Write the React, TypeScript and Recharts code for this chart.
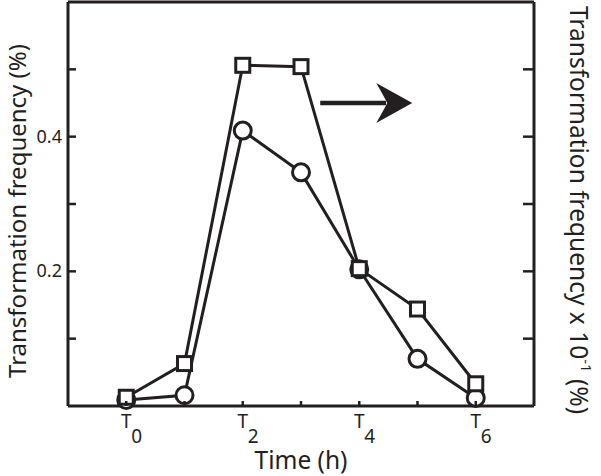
import {
  Label,
  Line,
  LineChart,
  ReferenceDot,
  ReferenceLine,
  XAxis,
  YAxis,
} from "recharts";

// time points (h) and the two measured series
const hours = [0, 1, 2, 3, 4, 5, 6];
const circleValues = [0.009, 0.016, 0.409, 0.347, 0.203, 0.07, 0.012];
const squareValues = [0.013, 0.063, 0.506, 0.504, 0.204, 0.144, 0.033];

const xTicks = [0, 1, 2, 3, 4, 5, 6];
const xLabelled = [0, 2, 4, 6];
const yTicks = [0.1, 0.2, 0.3, 0.4, 0.5];
const yLabelled = [0.2, 0.4];

// arrow pointing at the right-hand axis
const arrowFrom = { x: 3.33, y: 0.45 };
const arrowTo = { x: 4.91, y: 0.45 };

const INK = "#231f20";
const FONT = "'Noto Sans', sans-serif";

const data = hours.map((h, i) => ({
  h,
  circle: circleValues[i],
  square: squareValues[i],
}));

function LeftTick(props: any) {
  const { x, y, payload } = props;
  const v = payload.value;
  return (
    <g>
      <line x1={x + 6} x2={x + 14} y1={y} y2={y} stroke={INK} strokeWidth={2.5} />
      {yLabelled.includes(v) ? (
        <text x={x} y={y + 6} textAnchor="end" fontSize={18} fill={INK} fontFamily={FONT}>
          {v.toFixed(1)}
        </text>
      ) : null}
    </g>
  );
}

function RightTick(props: any) {
  const { x, y } = props;
  return <line x1={x} x2={x - 11} y1={y} y2={y} stroke={INK} strokeWidth={2.5} />;
}

function BottomTick(props: any) {
  const { x, y, payload } = props;
  const v = payload.value;
  return (
    <g>
      <line x1={x} x2={x} y1={y} y2={y - 5} stroke={INK} strokeWidth={2.5} />
      {xLabelled.includes(v) ? (
        <g fontFamily={FONT} fill={INK}>
          <text x={x} y={y + 22} textAnchor="middle" fontSize={19}>
            T
          </text>
          <text x={x + 5} y={y + 37} textAnchor="start" fontSize={19}>
            {v}
          </text>
        </g>
      ) : null}
    </g>
  );
}

function SquareDot(props: any) {
  const { cx, cy, index } = props;
  return (
    <rect
      key={`sq-${index}`}
      x={cx - 7}
      y={cy - 7}
      width={14}
      height={14}
      fill="#fff"
      stroke={INK}
      strokeWidth={3}
    />
  );
}

function CircleDot(props: any) {
  const { cx, cy, index } = props;
  return (
    <circle key={`ci-${index}`} cx={cx} cy={cy} r={8.5} fill="#fff" stroke={INK} strokeWidth={3} />
  );
}

function ArrowHead(props: any) {
  const { cx, cy } = props;
  return (
    <path
      d={`M${cx},${cy} L${cx - 36},${cy - 20} Q${cx - 28},${cy - 6} ${cx - 25},${cy} Q${cx - 28},${cy + 6} ${cx - 36},${cy + 20} Z`}
      fill={INK}
    />
  );
}

export default function App() {
  return (
    <div style={{ position: "absolute", left: 0, top: 0, width: 601, height: 476, background: "#fff" }}>
      <LineChart width={601} height={476} data={data} margin={{ top: 2, right: 0, bottom: 0, left: 0 }}>
        <XAxis
          xAxisId="x"
          dataKey="h"
          type="number"
          domain={[-1, 7]}
          ticks={xTicks}
          interval={0}
          height={70}
          tickSize={0}
          tickMargin={0}
          tickLine={false}
          tick={<BottomTick />}
          axisLine={{ stroke: INK, strokeWidth: 3 }}
        >
          <Label
            content={(p: any) => {
              const vb = p.viewBox;
              return (
                <text
                  x={vb.x + vb.width / 2}
                  y={vb.y + 63}
                  textAnchor="middle"
                  fontSize={24.5}
                  fill={INK}
                  fontFamily={FONT}
                >
                  Time (h)
                </text>
              );
            }}
          />
        </XAxis>
        <YAxis
          yAxisId="left"
          type="number"
          domain={[0, 0.6]}
          ticks={yTicks}
          interval={0}
          width={68}
          tickSize={0}
          tickMargin={6}
          tickLine={false}
          tick={<LeftTick />}
          axisLine={{ stroke: INK, strokeWidth: 3 }}
        >
          <Label
            content={(p: any) => {
              const vb = p.viewBox;
              const cx = vb.x + 26;
              const cy = vb.y + vb.height - 28;
              return (
                <text
                  transform={`translate(${cx},${cy}) rotate(-90)`}
                  textAnchor="start"
                  fontSize={24}
                  fill={INK}
                  fontFamily={FONT}
                >
                  Transformation frequency (%)
                </text>
              );
            }}
          />
        </YAxis>
        <YAxis
          yAxisId="right"
          orientation="right"
          type="number"
          domain={[0, 0.6]}
          ticks={yTicks}
          interval={0}
          width={67}
          tickSize={0}
          tickMargin={0}
          tickLine={false}
          tick={<RightTick />}
          axisLine={{ stroke: INK, strokeWidth: 3 }}
        >
          <Label
            content={(p: any) => {
              const vb = p.viewBox;
              const cx = vb.x + 35.5;
              const cy = 6;
              return (
                <text
                  transform={`translate(${cx},${cy}) rotate(90)`}
                  textAnchor="start"
                  fontSize={24.5}
                  fill={INK}
                  fontFamily={FONT}
                >
                  Transformation frequency x 10
                  <tspan fontSize={15} dy={-11}>
                    -1
                  </tspan>
                  <tspan dy={11}> (%)</tspan>
                </text>
              );
            }}
          />
        </YAxis>

        <ReferenceLine xAxisId="x" yAxisId="left" y={0.6} stroke={INK} strokeWidth={3} />

        <Line
          xAxisId="x"
          yAxisId="left"
          type="linear"
          dataKey="circle"
          stroke={INK}
          strokeWidth={3}
          dot={CircleDot}
          activeDot={false}
          isAnimationActive={false}
        />
        <Line
          xAxisId="x"
          yAxisId="right"
          type="linear"
          dataKey="square"
          stroke={INK}
          strokeWidth={3}
          dot={SquareDot}
          activeDot={false}
          isAnimationActive={false}
        />

        <ReferenceLine
          xAxisId="x"
          yAxisId="left"
          segment={[arrowFrom, { x: arrowTo.x - 0.45, y: arrowTo.y }]}
          stroke={INK}
          strokeWidth={4.5}
        />
        <ReferenceDot
          xAxisId="x"
          yAxisId="left"
          x={arrowTo.x}
          y={arrowTo.y}
          shape={<ArrowHead />}
        />
      </LineChart>
    </div>
  );
}
